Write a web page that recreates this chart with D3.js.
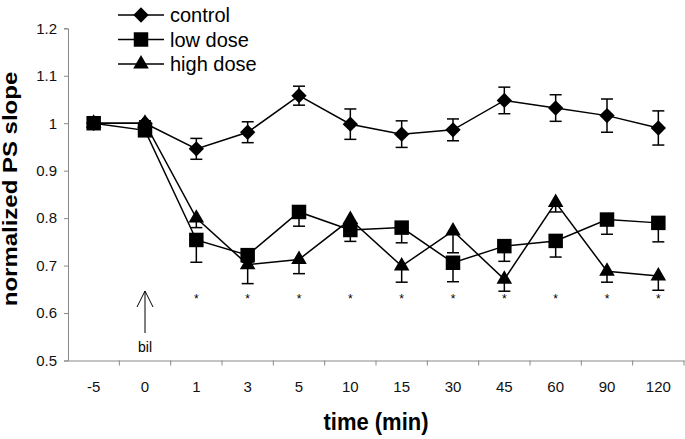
<!DOCTYPE html>
<html>
<head>
<meta charset="utf-8">
<script src="https://cdn.jsdelivr.net/npm/d3@7"></script>
<style>
  body { margin: 0; background: #fff; }
  text { font-family: "Liberation Sans", Arial, sans-serif; }
</style>
</head>
<body>
<script>
// data
const times = ["-5", "0", "1", "3", "5", "10", "15", "30", "45", "60", "90", "120"];
const control = [1.0, 1.0, 0.946, 0.981, 1.058, 0.998, 0.977, 0.986, 1.048, 1.032, 1.016, 0.990];
const controlErr = [0, 0.005, 0.022, 0.022, 0.02, 0.032, 0.028, 0.023, 0.028, 0.028, 0.035, 0.036];
const lowDose = [1.0, 0.985, 0.754, 0.722, 0.813, 0.775, 0.780, 0.706, 0.741, 0.752, 0.797, 0.790];
const lowErr = [0, 0.01, 0.047, 0.015, 0.03, 0.024, 0.032, 0.04, 0.032, 0.034, 0.031, 0.04];
const highDose = [1.0, 1.0, 0.800, 0.702, 0.713, 0.797, 0.699, 0.773, 0.671, 0.833, 0.688, 0.678];
const highErr = [0, 0.005, 0.02, 0.04, 0.03, 0.02, 0.034, 0.046, 0.025, 0.02, 0.023, 0.03];
const starTimes = ["1", "3", "5", "10", "15", "30", "45", "60", "90", "120"];
const yTicks = [0.5, 0.6, 0.7, 0.8, 0.9, 1, 1.1, 1.2];

const width = 685;
const height = 439;

const svg = d3.select("body").append("svg")
    .attr("width", width)
    .attr("height", height);

const x = d3.scaleBand().domain(times).range([68, 684]);
const y = d3.scaleLinear().domain([0.5, 1.2]).range([360.5, 28.3]);
const cx = t => x(t) + x.bandwidth() / 2;

// axes
const yAxis = svg.append("g")
    .attr("transform", "translate(68,0)")
    .call(d3.axisLeft(y).tickValues(yTicks).tickSize(4).tickPadding(7).tickFormat(d3.format("")));
yAxis.selectAll("text").attr("font-size", 15).attr("fill", "#111")
    .attr("font-family", "Liberation Sans, Arial, sans-serif");

const xAxis = svg.append("g")
    .attr("transform", "translate(0,360.5)")
    .call(d3.axisBottom(x).tickSize(0).tickPadding(21));
xAxis.selectAll("text").attr("font-size", 15).attr("fill", "#111")
    .attr("font-family", "Liberation Sans, Arial, sans-serif");
// ticks sit between categories
xAxis.selectAll(".edge")
    .data(times)
    .enter().append("line")
    .attr("x1", d => x(d) + x.bandwidth())
    .attr("x2", d => x(d) + x.bandwidth())
    .attr("y1", 0).attr("y2", 5);

svg.selectAll(".domain, .tick line").attr("stroke", "#888");
xAxis.selectAll("line").attr("stroke", "#888");

// axis titles (the scan is a bit stretched vertically)
svg.append("text")
    .attr("transform", "translate(17,189) rotate(-90) scale(1.17,1)")
    .attr("text-anchor", "middle")
    .attr("font-size", 20.5).attr("font-weight", "bold")
    .text("normalized PS slope");

svg.append("text")
    .attr("transform", "translate(376,430) scale(1,1.12)")
    .attr("text-anchor", "middle")
    .attr("font-size", 22).attr("font-weight", "bold")
    .text("time (min)");

// series
const series = [
    { name: "control", vals: control, err: controlErr, both: true, sym: d3.symbolDiamond2, size: 150 },
    { name: "low dose", vals: lowDose, err: lowErr, both: false, sym: d3.symbolSquare, size: 210 },
    { name: "high dose", vals: highDose, err: highErr, both: false, sym: d3.symbolTriangle, size: 105 }
];

const line = d3.line().x((d, i) => cx(times[i])).y(d => y(d));

series.forEach(s => {
    const g = svg.append("g");
    // error bars
    s.vals.forEach((v, i) => {
        if (!s.err[i]) return;
        const xc = cx(times[i]);
        const lo = y(v - s.err[i]);
        const hi = s.both ? y(v + s.err[i]) : y(v);
        g.append("line").attr("x1", xc).attr("x2", xc).attr("y1", lo).attr("y2", hi)
            .attr("stroke", "#000").attr("stroke-width", 1.5);
        g.append("line").attr("x1", xc - 6).attr("x2", xc + 6).attr("y1", lo).attr("y2", lo)
            .attr("stroke", "#000").attr("stroke-width", 1.5);
        if (s.both) {
            g.append("line").attr("x1", xc - 6).attr("x2", xc + 6).attr("y1", hi).attr("y2", hi)
                .attr("stroke", "#000").attr("stroke-width", 1.5);
        }
    });
    g.append("path").datum(s.vals)
        .attr("d", line)
        .attr("fill", "none").attr("stroke", "#000").attr("stroke-width", 1.5);
    g.selectAll(".pt").data(s.vals).enter().append("path")
        .attr("transform", (d, i) => `translate(${cx(times[i])},${y(d)})`)
        .attr("d", d3.symbol().type(s.sym).size(s.size))
        .attr("fill", "#000");
});

// significance stars
svg.selectAll(".star").data(starTimes).enter().append("text")
    .attr("x", d => cx(d)).attr("y", y(0.622))
    .attr("text-anchor", "middle")
    .attr("font-size", 12)
    .text("*");

// bil arrow
const ax = cx("0");
svg.append("line").attr("x1", ax).attr("x2", ax).attr("y1", 333).attr("y2", 291)
    .attr("stroke", "#000").attr("stroke-width", 1);
svg.append("path")
    .attr("d", `M${ax - 8},307 L${ax},291 L${ax + 8},307`)
    .attr("fill", "none").attr("stroke", "#000").attr("stroke-width", 1);
svg.append("text").attr("x", ax).attr("y", 352)
    .attr("text-anchor", "middle").attr("font-size", 14)
    .text("bil");

// legend
const legend = svg.append("g");
series.forEach((s, i) => {
    const ly = 15 + i * 24.5;
    legend.append("line").attr("x1", 118).attr("x2", 164).attr("y1", ly).attr("y2", ly)
        .attr("stroke", "#000").attr("stroke-width", 1.5);
    legend.append("path")
        .attr("transform", `translate(141,${ly})`)
        .attr("d", d3.symbol().type(s.sym).size(s.size))
        .attr("fill", "#000");
    legend.append("text").attr("x", 170).attr("y", ly + 7)
        .attr("font-size", 20)
        .text(s.name);
});
</script>
</body>
</html>
